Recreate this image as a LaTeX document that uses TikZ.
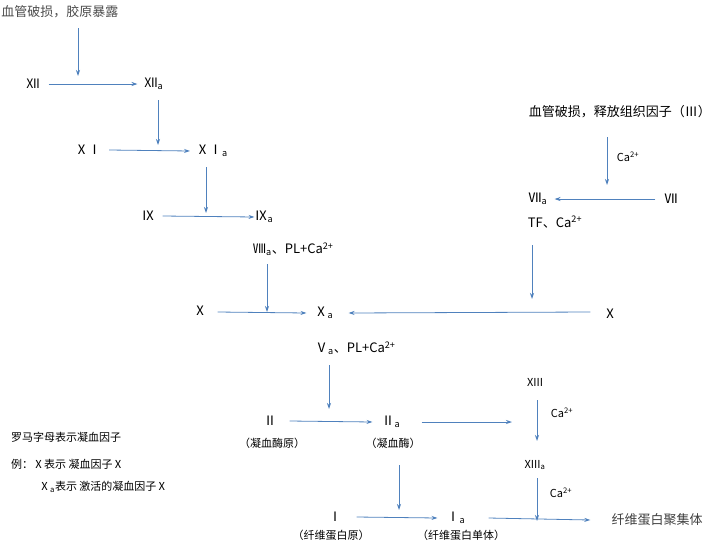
\documentclass[tikz,border=0pt]{standalone}
\usepackage{fontspec}
\setmainfont{Noto Sans CJK SC}
\usetikzlibrary{arrows.meta}
\definecolor{arr}{RGB}{79,129,189}
\begin{document}
\begin{tikzpicture}[x=1pt,y=-1pt,
  t/.style={font=\fontsize{13}{15}\selectfont,inner sep=1pt},
  s/.style={font=\fontsize{11}{13}\selectfont,inner sep=1pt},
  a/.style={draw=arr,line width=0.8pt,-{Stealth[length=6pt,width=4pt]}}]
\useasboundingbox (0,0) rectangle (720,555);
\node[t,text=black!70] (top) at (60,12) {血管破损，胶原暴露};
\node[t] (n12) at (33,84) {Ⅻ};
\node[t] (n12a) at (154,84) {Ⅻ\textsubscript{a}};
\node[t] (n11) at (88,150) {ⅩⅠ};
\node[t] (n11a) at (212,151) {ⅩⅠ\textsubscript{a}};
\node[t] (n9) at (148,216) {Ⅸ};
\node[t] (n9a) at (264,217) {Ⅸ\textsubscript{a}};
\node[t,anchor=west] (c8) at (252,249) {Ⅷ\textsubscript{a}、PL+Ca\textsuperscript{2+}};
\node[t] (n10) at (200,311) {Ⅹ};
\node[t] (n10a) at (324,313) {Ⅹ\textsubscript{a}};
\node[t,anchor=east] (tf3) at (712,112) {血管破损，释放组织因子（Ⅲ）};
\node[s] (ca1) at (628,157) {Ca\textsuperscript{2+}};
\node[t] (n7) at (671,199) {Ⅶ};
\node[t] (n7a) at (538,199) {Ⅶ\textsubscript{a}};
\node[t] (tf) at (555,222) {TF、Ca\textsuperscript{2+}};
\node[t] (n10r) at (610,314) {Ⅹ};
\node[t,anchor=west] (c5) at (314,348) {Ⅴ\textsubscript{a}、PL+Ca\textsuperscript{2+}};
\node[t] (n2) at (270,421) {Ⅱ};
\node[t] (n2a) at (391,422) {Ⅱ\textsubscript{a}};
\node[s] (l2) at (272,443) {（凝血酶原）};
\node[s] (l2a) at (393,443) {（凝血酶）};
\node[s] (n13) at (535,382) {XIII};
\node[s] (ca2) at (562,413) {Ca\textsuperscript{2+}};
\node[s] (n13a) at (535,465) {XIII\textsubscript{a}};
\node[s] (ca3) at (561,493) {Ca\textsuperscript{2+}};
\node[t] (n1) at (335,517) {Ⅰ};
\node[t] (n1a) at (456,518) {Ⅰ\textsubscript{a}};
\node[s] (l1) at (331,535) {（纤维蛋白原）};
\node[s] (l1a) at (461,535) {（纤维蛋白单体）};
\node[t,text=black!75] (fib) at (657,520) {纤维蛋白聚集体};
\node[s,anchor=west] (lg1) at (10,437) {罗马字母表示凝血因子};
\node[s,anchor=west] (lg2) at (10,464) {例：Ⅹ表示 凝血因子Ⅹ};
\node[s,anchor=west] (lg3) at (38,487) {Ⅹ\textsubscript{a}表示 激活的凝血因子Ⅹ};
% arrow ends
\coordinate (s1) at (78,28);   \coordinate (p1) at (78,76);
\coordinate (s2) at (158,100); \coordinate (p2) at (158,145);
\coordinate (s3) at (206,167); \coordinate (p3) at (206,213);
\coordinate (s4) at (267,264); \coordinate (p4) at (267,312);
\coordinate (s5) at (607,137); \coordinate (p5) at (607,185);
\coordinate (s6) at (532,245); \coordinate (p6) at (532,299);
\coordinate (s7) at (329,365); \coordinate (p7) at (329,409);
\coordinate (p8) at (512,422);
\coordinate (s9) at (399,465); \coordinate (p9) at (399,510);
\coordinate (s10) at (537,400); \coordinate (p10) at (537,441);
\coordinate (s11) at (537,478); \coordinate (p11) at (537,521);
\draw[a] (s1) -- (p1);
\draw[a] ([xshift=8pt]n12.east) -- ([xshift=-6pt]n12a.west);
\draw[a] (s2) -- (p2);
\draw[a] ([xshift=7pt]n11.east) -- ([xshift=-5pt]n11a.west);
\draw[a] (s3) -- (p3);
\draw[a] ([xshift=7pt]n9.east) -- ([xshift=1pt]n9a.west);
\draw[a] (s4) -- (p4);
\draw[a] ([xshift=10pt,yshift=-1pt]n10.east) -- ([xshift=-7pt]n10a.west);
\draw[a] (s5) -- (p5);
\draw[a] ([xshift=-8pt]n7.west) -- ([xshift=6pt]n7a.east);
\draw[a] (s6) -- (p6);
\draw[a] ([xshift=-12pt,yshift=2pt]n10r.west) -- ([xshift=14pt]n10a.east);
\draw[a] (s7) -- (p7);
\draw[a] ([xshift=12pt]n2.east) -- ([xshift=-8pt]n2a.west);
\draw[a] ([xshift=20pt]n2a.east) -- (p8);
\draw[a] (s10) -- (p10);
\draw[a] (s11) -- (p11);
\draw[a] (s9) -- (p9);
\draw[a] ([xshift=14pt]n1.east) -- ([xshift=-8pt]n1a.west);
\draw[a] ([xshift=22pt]n1a.east) -- ([xshift=-20pt]fib.west);
\end{tikzpicture}
\end{document}
